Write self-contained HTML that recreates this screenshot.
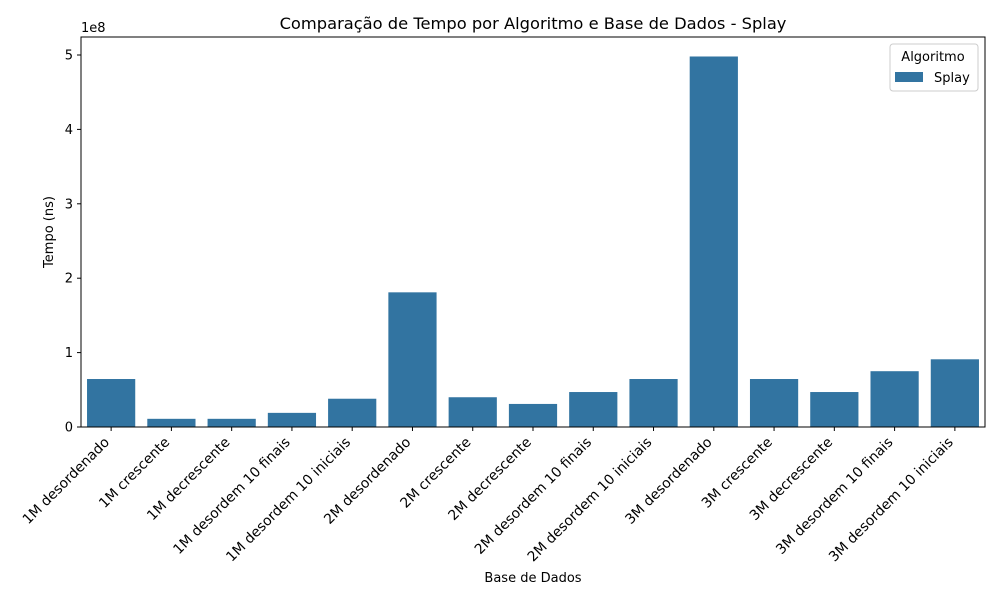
<!DOCTYPE html>
<html><head><meta charset="utf-8"><style>
body{margin:0;background:#fff;font-family:"DejaVu Sans","Liberation Sans",sans-serif;}
svg text{font-family:"DejaVu Sans","Liberation Sans",sans-serif;fill:#000;}
</style></head><body>
<svg id="chart" width="1000" height="600" xmlns="http://www.w3.org/2000/svg"></svg>
<script>
const categories=["1M desordenado","1M crescente","1M decrescente","1M desordem 10 finais","1M desordem 10 iniciais","2M desordenado","2M crescente","2M decrescente","2M desordem 10 finais","2M desordem 10 iniciais","3M desordenado","3M crescente","3M decrescente","3M desordem 10 finais","3M desordem 10 iniciais"];
const values=[6.45e7,1.1e7,1.1e7,1.9e7,3.8e7,1.81e8,4.0e7,3.1e7,4.7e7,6.45e7,4.98e8,6.45e7,4.7e7,7.5e7,9.1e7];
const yTicks=[0,1,2,3,4,5];
const NS="http://www.w3.org/2000/svg";
const svg=document.getElementById('chart');
const L=81,R=985,T=37,B=427;
const y=v=>B-v/1e8*74.4;
const band=(R-L)/categories.length;
const x=i=>L+band*(i+0.5);
function mk(tag,attrs,parent){const e=document.createElementNS(NS,tag);for(const k in attrs)e.setAttribute(k,attrs[k]);(parent||svg).appendChild(e);return e;}
const title=mk('text',{x:533,y:29,'text-anchor':'middle','font-size':16.3});
title.textContent="Comparação de Tempo por Algoritmo e Base de Dados - Splay";


values.forEach((v,i)=>{
 const r=mk('rect',{x:x(i)-band*0.4,y:y(v),width:band*0.8,height:B-y(v),fill:'#3274a1'});
 
 
});
yTicks.forEach(t=>{
 mk('line',{x1:L-4,x2:L,y1:y(t*1e8),y2:y(t*1e8),stroke:'#000'});
 const tx=mk('text',{x:L-8,y:y(t*1e8)+4.5,'text-anchor':'end','font-size':13});
 tx.textContent=t;
 
 
});
const ex=mk('text',{x:L,y:32,'font-size':13});ex.textContent="1e8";


categories.forEach((c,i)=>{
 mk('line',{x1:x(i),x2:x(i),y1:B,y2:B+4,stroke:'#000'});
 const ax=x(i)-1, ay=B+16;
 const tx=mk('text',{x:ax,y:ay,'text-anchor':'end','font-size':13.9,transform:`rotate(-45 ${ax} ${ay})`});
 tx.textContent=c;
 
 
});
mk('rect',{x:L,y:T,width:R-L,height:B-T,fill:'none',stroke:'#000','stroke-width':1});
const xt=mk('text',{x:533,y:582,'text-anchor':'middle','font-size':13});xt.textContent="Base de Dados";


const yt=mk('text',{x:53,y:232,'text-anchor':'middle','font-size':13,transform:'rotate(-90 53 232)'});yt.textContent="Tempo (ns)";


const lg=mk('g',{});


mk('rect',{x:890,y:44,width:88,height:47,rx:3,fill:'#fff',stroke:'#ccc'},lg);
const lt=mk('text',{x:933,y:61,'text-anchor':'middle','font-size':13},lg);lt.textContent="Algoritmo";
mk('rect',{x:895,y:72,width:28,height:10,fill:'#3274a1'},lg);
const le=mk('text',{x:934,y:82,'font-size':13},lg);le.textContent="Splay";


</script>
</body></html>
